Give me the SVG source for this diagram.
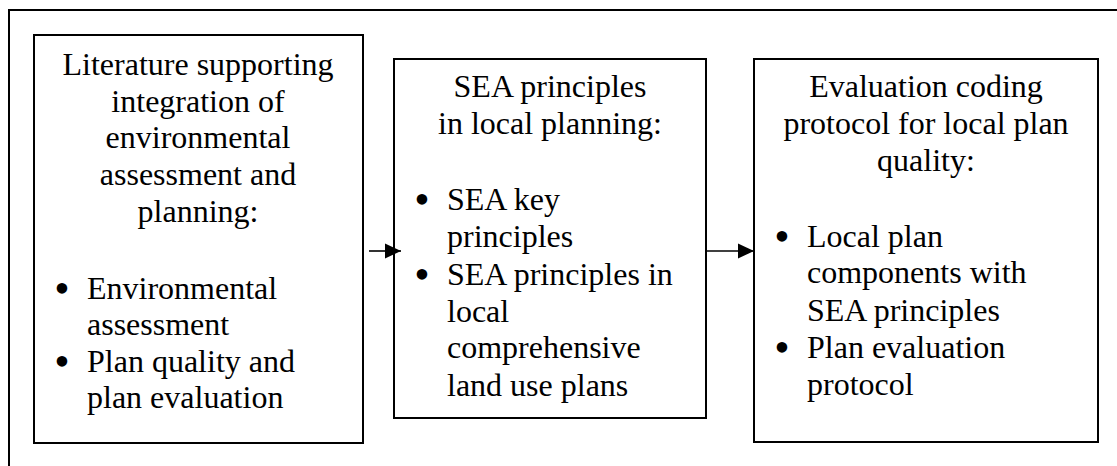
<svg xmlns="http://www.w3.org/2000/svg" width="1117" height="466" viewBox="0 0 1117 466">
<style>
.box{fill:#fff;stroke:#000;stroke-width:2}
.t{font-family:"Liberation Serif","Times New Roman",serif;font-size:32px;fill:#000}
.c{text-anchor:middle}
.b{text-anchor:middle;font-size:44px}
.conn{stroke:#000;stroke-width:1.6;fill:none}
</style>
<defs>
<marker id="ah" markerUnits="userSpaceOnUse" markerWidth="16" markerHeight="16" refX="16" refY="7.5" orient="auto" viewBox="0 0 16 15">
<path d="M0,0 L16,7.5 L0,15 z" fill="#000"/>
</marker>
</defs>
<rect width="1117" height="466" fill="#fff"/>
<path d="M9,466 V10 H1117" fill="none" stroke="#000" stroke-width="2"/>
<g id="node-literature">
<rect class="box" x="34" y="35" width="329" height="408"/>
<text class="t c" x="198" y="75">Literature supporting</text>
<text class="t c" x="198" y="112">integration of</text>
<text class="t c" x="198" y="148">environmental</text>
<text class="t c" x="198" y="185">assessment and</text>
<text class="t c" x="198" y="222">planning:</text>
<text class="t b" x="62" y="303">•</text>
<text class="t" x="87" y="299">Environmental</text>
<text class="t" x="87" y="335">assessment</text>
<text class="t b" x="62" y="376">•</text>
<text class="t" x="87" y="372">Plan quality and</text>
<text class="t" x="87" y="408">plan evaluation</text>
</g>
<g id="node-sea">
<rect class="box" x="394" y="59" width="312" height="359"/>
<text class="t c" x="550" y="97">SEA principles</text>
<text class="t c" x="550" y="134">in local planning:</text>
<text class="t b" x="422" y="214">•</text>
<text class="t" x="447" y="210">SEA key</text>
<text class="t" x="447" y="247">principles</text>
<text class="t b" x="422" y="289">•</text>
<text class="t" x="447" y="285">SEA principles in</text>
<text class="t" x="447" y="322">local</text>
<text class="t" x="447" y="358">comprehensive</text>
<text class="t" x="447" y="396">land use plans</text>
</g>
<g id="node-evaluation">
<rect class="box" x="754" y="59" width="344" height="383"/>
<text class="t c" x="926" y="97">Evaluation coding</text>
<text class="t c" x="926" y="134">protocol for local plan</text>
<text class="t c" x="926" y="171">quality:</text>
<text class="t b" x="782" y="251">•</text>
<text class="t" x="807" y="247">Local plan</text>
<text class="t" x="807" y="283">components with</text>
<text class="t" x="807" y="321">SEA principles</text>
<text class="t b" x="782" y="362">•</text>
<text class="t" x="807" y="358">Plan evaluation</text>
<text class="t" x="807" y="395">protocol</text>
</g>
<g id="connectors">
<line class="conn" x1="369" y1="251" x2="401" y2="251" marker-end="url(#ah)"/>
<line class="conn" x1="706" y1="251" x2="754" y2="251" marker-end="url(#ah)"/>
</g>
</svg>
